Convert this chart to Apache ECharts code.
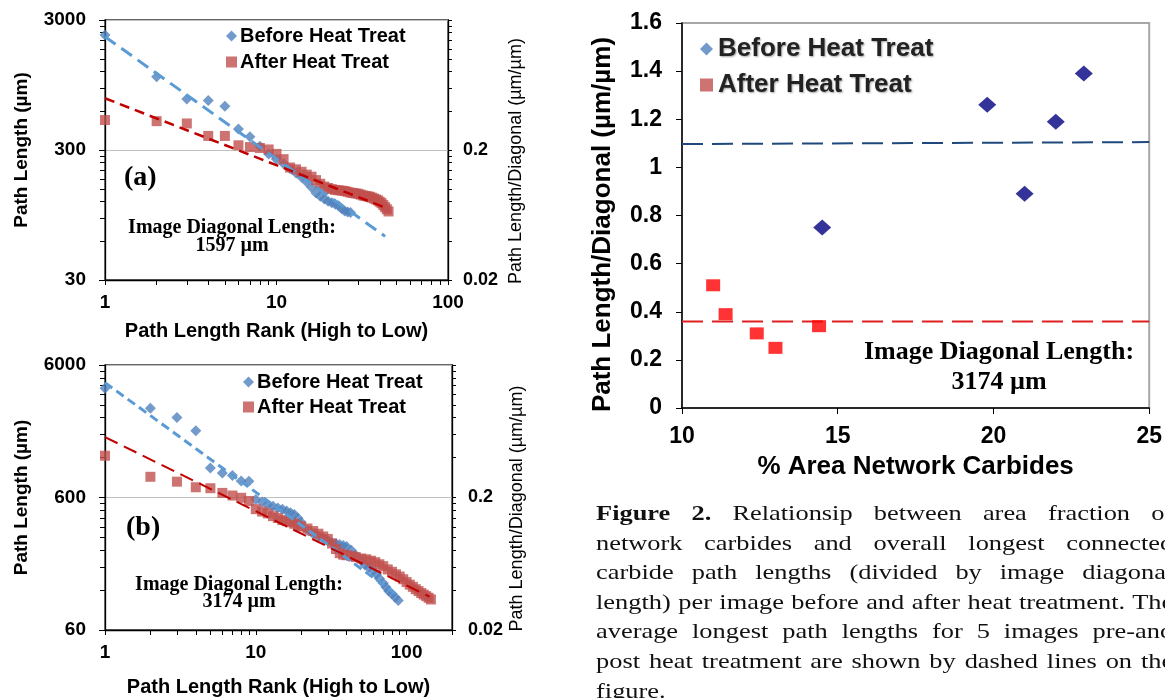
<!DOCTYPE html>
<html>
<head>
<meta charset="utf-8">
<script src="https://cdn.jsdelivr.net/npm/echarts@6/dist/echarts.min.js"></script>
<style>
  html, body { margin: 0; padding: 0; background: #fff; overflow: hidden; }
  #chart { position: absolute; left: 0; top: 0; width: 1165px; height: 698px; }
  #caption {
    position: absolute; left: 596px; top: 498px; width: 481px;
    transform: scaleX(1.2); transform-origin: 0 0;
    font-family: 'Liberation Serif', 'Times New Roman', serif;
    font-size: 22px; line-height: 29.6px; color: #111;
  }
  #caption .ln { text-align: justify; text-align-last: justify; }
  #caption .last { text-align-last: left; }
</style>
</head>
<body>
<div id="chart"></div>
<div id="caption">
  <div class="ln"><b>Figure 2.</b> Relationsip between area fraction of</div>
  <div class="ln">network carbides and overall longest connected</div>
  <div class="ln">carbide path lengths (divided by image diagonal</div>
  <div class="ln">length) per image before and after heat treatment. The</div>
  <div class="ln">average longest path lengths for 5 images pre-and</div>
  <div class="ln">post heat treatment are shown by dashed lines on the</div>
  <div class="ln last">figure.</div>
</div>
<script>
// panel (a): rank vs path length, image diagonal 1597 um
const rankBeforeA = [1,2,3,4,5,6,7,8,9,10,11,12,13,14,15,16,17,18,19,20,21,22,23,24,25,26,27];
const lenBeforeA = [2300,1100,740,720,650,435,380,320,280,255,235,215,200,185,170,155,140,132,126,121,118,115,112,106,102,100,99];
const rankAfterA = [1,2,3,4,5,6,7,8,9,10,11,12,13,14,15,16,17,18,19,20,21,22,23,24,25,26,27,28,29,30,31,32,33,34,35,36,37,38,39,40,41,42,43,44,45];
const lenAfterA = [510,500,480,385,385,326,316,311,303,280,255,220,213,204,194,187,176,165,157,153,150,148,147,146,145,143,141,140,139,138,136,134,133,132,131,129,127,125,123,120,117,113,109,105,101];
const trendBeforeA = [[1,2233],[43,65]];
const trendAfterA = [[1,750],[44,107]];

// panel (b): image diagonal 3174 um
const rankBeforeB = [1,2,3,4,5,6,7,8,9,10,11,12,13,14,15,16,17,18,19,20,22,24,26,28,30,32,34,36,38,40,43,46,50,53,56,60,63,66,70,73,76,80,84,88];
const lenBeforeB = [4010,2830,2410,1910,1000,920,880,800,795,580,555,530,516,500,490,475,460,447,420,390,340,320,305,295,285,275,270,265,260,256,240,220,200,186,178,168,158,147,135,126,118,112,106,100];
const rankAfterB = [1,2,3,4,5,6,7,8,9,10,11,12,13,14,15,16,17,18,19,20,22,24,26,28,30,32,34,36,38,40,43,46,50,54,58,62,66,70,75,80,85,90,95,100,105,110,115,120,125,130,135,140,145];
const lenAfterB = [1240,860,790,717,705,650,621,597,565,490,470,455,434,420,405,398,390,380,368,362,350,335,320,305,292,270,245,228,222,220,217,213,208,205,200,195,188,182,172,165,158,152,145,138,132,127,122,118,114,111,108,105,102];
const trendBeforeB = [[1,4415],[88,109]];
const trendAfterB = [[1,1715],[142,107]];

// panel (c): area fraction vs path length / diagonal
const areaBefore = [14.5, 19.8, 21.0, 22.0, 22.9];
const ratioBefore = [0.75, 1.26, 0.89, 1.19, 1.39];
const areaAfter = [11.0, 11.4, 12.4, 13.0, 14.4];
const ratioAfter = [0.51, 0.39, 0.31, 0.25, 0.34];
const avgBefore = [[10,1.097],[25,1.105]];
const avgAfter = [[10,0.36],[25,0.36]];

// tick values
const xTicksA = [1,2,3,4,5,6,7,8,9,10,20,30,40,50,60,70,80,90,100];
const xTicksB = [1,2,3,4,5,6,7,8,9,10,20,30,40,50,60,70,80,90,100,200];
const xLabelsLog = [1,10,100];
const yMajorA = [30,300,3000];
const yMinorA = [60,90,120,150,180,210,240,270,600,900,1200,1500,1800,2100,2400,2700];
const yMajorB = [60,600,6000];
const yMinorB = [120,180,240,300,360,420,480,540,1200,1800,2400,3000,3600,4200,4800,5400];
const rightLabels = [0.02,0.2];
const rightTicks = [0.02,0.04,0.06,0.08,0.1,0.12,0.14,0.16,0.18,0.2,0.4,0.6,0.8,1,1.2,1.4,1.6,1.8,2];

const SANS = "'Liberation Sans', Arial, sans-serif";
const SERIF = "'Liberation Serif', 'Times New Roman', serif";
const BLUE = '#4f81bd';
const RED = '#c0504d';

const zip = (xs, ys) => xs.map((x, i) => [x, ys[i]]);
const plain = v => String(v);

const chart = echarts.init(document.getElementById('chart'));

function logX(grid, max, ticks) {
  return {
    type: 'log', gridIndex: grid, min: 1, max: max, logBase: 10,
    axisLine: { lineStyle: { color: '#000', width: 1.3 } },
    axisTick: { length: 5, customValues: ticks, lineStyle: { color: '#000' } },
    axisLabel: { customValues: xLabelsLog, formatter: plain, margin: 13,
      fontFamily: SANS, fontWeight: 'bold', fontSize: 19, color: '#000' },
    splitLine: { show: false },
    name: 'Path Length Rank (High to Low)', nameLocation: 'middle',
    nameGap: grid === 0 ? 41 : 47,
    nameTextStyle: { fontFamily: SANS, fontWeight: 'bold', fontSize: 20, color: '#000', verticalAlign: 'top' }
  };
}

function logYLeft(grid, min, max, labels) {
  return {
    type: 'log', gridIndex: grid, min: min, max: max, logBase: 10, position: 'left',
    axisLine: { show: true, lineStyle: { color: '#000', width: 1.3 } },
    axisTick: { show: true, length: 6, customValues: labels, lineStyle: { color: '#000' } },
    axisLabel: { customValues: labels, formatter: plain, margin: 19,
      fontFamily: SANS, fontWeight: 'bold', fontSize: 19, color: '#000' },
    splitLine: { show: true, lineStyle: { color: '#c0c0c0', width: 1 } },
    name: 'Path Length (µm)', nameLocation: 'middle', nameGap: 74, nameRotate: 90,
    nameTextStyle: { fontFamily: SANS, fontWeight: 'bold', fontSize: 19, color: '#000' }
  };
}

function logYMinor(grid, min, max, ticks) {
  return {
    type: 'log', gridIndex: grid, min: min, max: max, logBase: 10, position: 'left',
    axisLine: { show: false },
    axisTick: { show: true, length: 5, customValues: ticks, lineStyle: { color: '#000' } },
    axisLabel: { show: false },
    splitLine: { show: false }
  };
}

function logYRight(grid, margin, gap) {
  return {
    type: 'log', gridIndex: grid, min: 0.02, max: 2, logBase: 10, position: 'right',
    axisLine: { show: true, lineStyle: { color: '#000', width: 1.3 } },
    axisTick: { show: true, length: 4, customValues: rightTicks, lineStyle: { color: '#000' } },
    axisLabel: { customValues: rightLabels, formatter: plain, margin: margin,
      fontFamily: SANS, fontWeight: 'bold', fontSize: 18, color: '#000' },
    splitLine: { show: false },
    name: 'Path Length/Diagonal (µm/µm)', nameLocation: 'middle', nameGap: gap, nameRotate: 90,
    nameTextStyle: { fontFamily: SANS, fontSize: 18, color: '#000', padding: [0, 22, 0, 0] }
  };
}

function legendLeft(left, top, gap) {
  return {
    left: left, top: top, orient: 'vertical', itemGap: gap, itemWidth: 11, itemHeight: 11,
    selectedMode: false,
    textStyle: { fontFamily: SANS, fontWeight: 'bold', fontSize: 20, color: '#000', padding: [0, 0, 0, -2] },
    data: [
      { name: 'Before Heat Treat', icon: 'diamond', itemStyle: { color: BLUE } },
      { name: 'After Heat Treat', icon: 'rect', itemStyle: { color: RED } }
    ]
  };
}

function scatterPair(xi, yi, before, after) {
  return [
    { name: 'Before Heat Treat', type: 'scatter', xAxisIndex: xi, yAxisIndex: yi,
      symbol: 'diamond', symbolSize: 11, itemStyle: { color: BLUE }, data: before, z: 2 },
    { name: 'After Heat Treat', type: 'scatter', xAxisIndex: xi, yAxisIndex: yi,
      symbol: 'rect', symbolSize: 10, itemStyle: { color: RED }, data: after, z: 3 }
  ];
}

function trend(xi, yi, data, color, width, dash) {
  return { type: 'line', xAxisIndex: xi, yAxisIndex: yi, data: data, symbol: 'none', silent: true,
    lineStyle: { color: color, width: width, type: dash }, z: 4 };
}

const option = {
  animation: false,
  backgroundColor: '#fff',
  grid: [
    { left: 105, top: 20, width: 343, height: 260, show: true, borderColor: '#333', borderWidth: 1.3, backgroundColor: '#fff' },
    { left: 105, top: 365, width: 347, height: 265, show: true, borderColor: '#333', borderWidth: 1.3, backgroundColor: '#fff' },
    { left: 682, top: 23, width: 468, height: 385, show: true, borderColor: '#a6a6a6', borderWidth: 2, backgroundColor: '#fff' }
  ],
  legend: [
    legendLeft(221, 21, 6),
    legendLeft(238, 367, 5),
    {
      left: 695, top: 31, orient: 'vertical', itemGap: 10, itemWidth: 13, itemHeight: 13,
      selectedMode: false,
      textStyle: { fontFamily: SANS, fontWeight: 'bold', fontSize: 26, color: '#222',
        textShadowColor: 'rgba(0,0,0,0.35)', textShadowBlur: 2, textShadowOffsetX: 1, textShadowOffsetY: 1 },
      data: [
        { name: 'Before Heat Treat', icon: 'diamond', itemStyle: { color: BLUE } },
        { name: 'After Heat Treat', icon: 'rect', itemStyle: { color: RED } }
      ]
    }
  ],
  xAxis: [
    logX(0, 100, xTicksA),
    logX(1, 200, xTicksB),
    {
      type: 'value', gridIndex: 2, min: 10, max: 25, interval: 5,
      axisLine: { lineStyle: { color: '#000', width: 1.5 } },
      axisTick: { length: 6, lineStyle: { color: '#000' } },
      axisLabel: { margin: 17, fontFamily: SANS, fontWeight: 'bold', fontSize: 23, color: '#000' },
      splitLine: { show: false },
      name: '% Area Network Carbides', nameLocation: 'middle', nameGap: 46,
      nameTextStyle: { fontFamily: SANS, fontWeight: 'bold', fontSize: 26, color: '#000', verticalAlign: 'top' }
    }
  ],
  yAxis: [
    logYLeft(0, 30, 3000, yMajorA),
    logYMinor(0, 30, 3000, yMinorA),
    logYRight(0, 15, 59),
    logYLeft(1, 60, 6000, yMajorB),
    logYMinor(1, 60, 6000, yMinorB),
    logYRight(1, 16, 56),
    {
      type: 'value', gridIndex: 2, min: 0, max: 1.6, interval: 0.2,
      axisLine: { show: true, lineStyle: { color: '#000', width: 1.5 } },
      axisTick: { show: true, length: 6, lineStyle: { color: '#000' } },
      axisLabel: { margin: 20, fontFamily: SANS, fontWeight: 'bold', fontSize: 23, color: '#000',
        formatter: v => String(+v.toFixed(1)) },
      splitLine: { show: false },
      name: 'Path Length/Diagonal (µm/µm)', nameLocation: 'middle', nameGap: 66, nameRotate: 90,
      nameTextStyle: { fontFamily: SANS, fontWeight: 'bold', fontSize: 26, color: '#000', padding: [0, 18, 0, 0] }
    }
  ],
  series: [
    ...scatterPair(0, 0, zip(rankBeforeA, lenBeforeA), zip(rankAfterA, lenAfterA)),
    trend(0, 0, trendBeforeA, '#5b9bd5', 3, [13, 7]),
    trend(0, 0, trendAfterA, '#c00000', 2.5, [10, 6]),
    ...scatterPair(1, 3, zip(rankBeforeB, lenBeforeB), zip(rankAfterB, lenAfterB)),
    trend(1, 3, trendBeforeB, '#5b9bd5', 3, [9, 5]),
    trend(1, 3, trendAfterB, '#c00000', 2, [14, 7]),
    { name: 'Before Heat Treat', type: 'scatter', xAxisIndex: 2, yAxisIndex: 6,
      symbol: 'diamond', symbolSize: [18, 16], itemStyle: { color: '#000080' }, data: zip(areaBefore, ratioBefore) },
    { name: 'After Heat Treat', type: 'scatter', xAxisIndex: 2, yAxisIndex: 6,
      symbol: 'rect', symbolSize: [14, 12], itemStyle: { color: '#ff0000' }, data: zip(areaAfter, ratioAfter) },
    { type: 'line', xAxisIndex: 2, yAxisIndex: 6, data: avgBefore, symbol: 'none', silent: true,
      lineStyle: { color: '#1f497d', width: 2, type: [21, 9] }, z: 1 },
    { type: 'line', xAxisIndex: 2, yAxisIndex: 6, data: avgAfter, symbol: 'none', silent: true,
      lineStyle: { color: '#e02020', width: 2, type: [21, 9] }, z: 1 }
  ],
  graphic: [
    { type: 'text', left: 124, top: 164, style: { text: '(a)', font: 'bold 28px ' + SERIF, fill: '#000' } },
    { type: 'text', left: 126, top: 514, style: { text: '(b)', font: 'bold 28px ' + SERIF, fill: '#000' } },
    { type: 'text', x: 232, y: 237, style: { text: 'Image Diagonal Length:\n1597 µm', font: 'bold 20px ' + SERIF,
      lineHeight: 18, align: 'center', verticalAlign: 'middle', fill: '#000' } },
    { type: 'text', x: 239, y: 593, style: { text: 'Image Diagonal Length:\n3174 µm', font: 'bold 20px ' + SERIF,
      lineHeight: 17, align: 'center', verticalAlign: 'middle', fill: '#000' } },
    { type: 'text', x: 999, y: 367, style: { text: 'Image Diagonal Length:\n3174 µm', font: 'bold 26px ' + SERIF,
      lineHeight: 30, align: 'center', verticalAlign: 'middle', fill: '#000' } }
  ]
};

chart.setOption(option);
</script>
</body>
</html>
